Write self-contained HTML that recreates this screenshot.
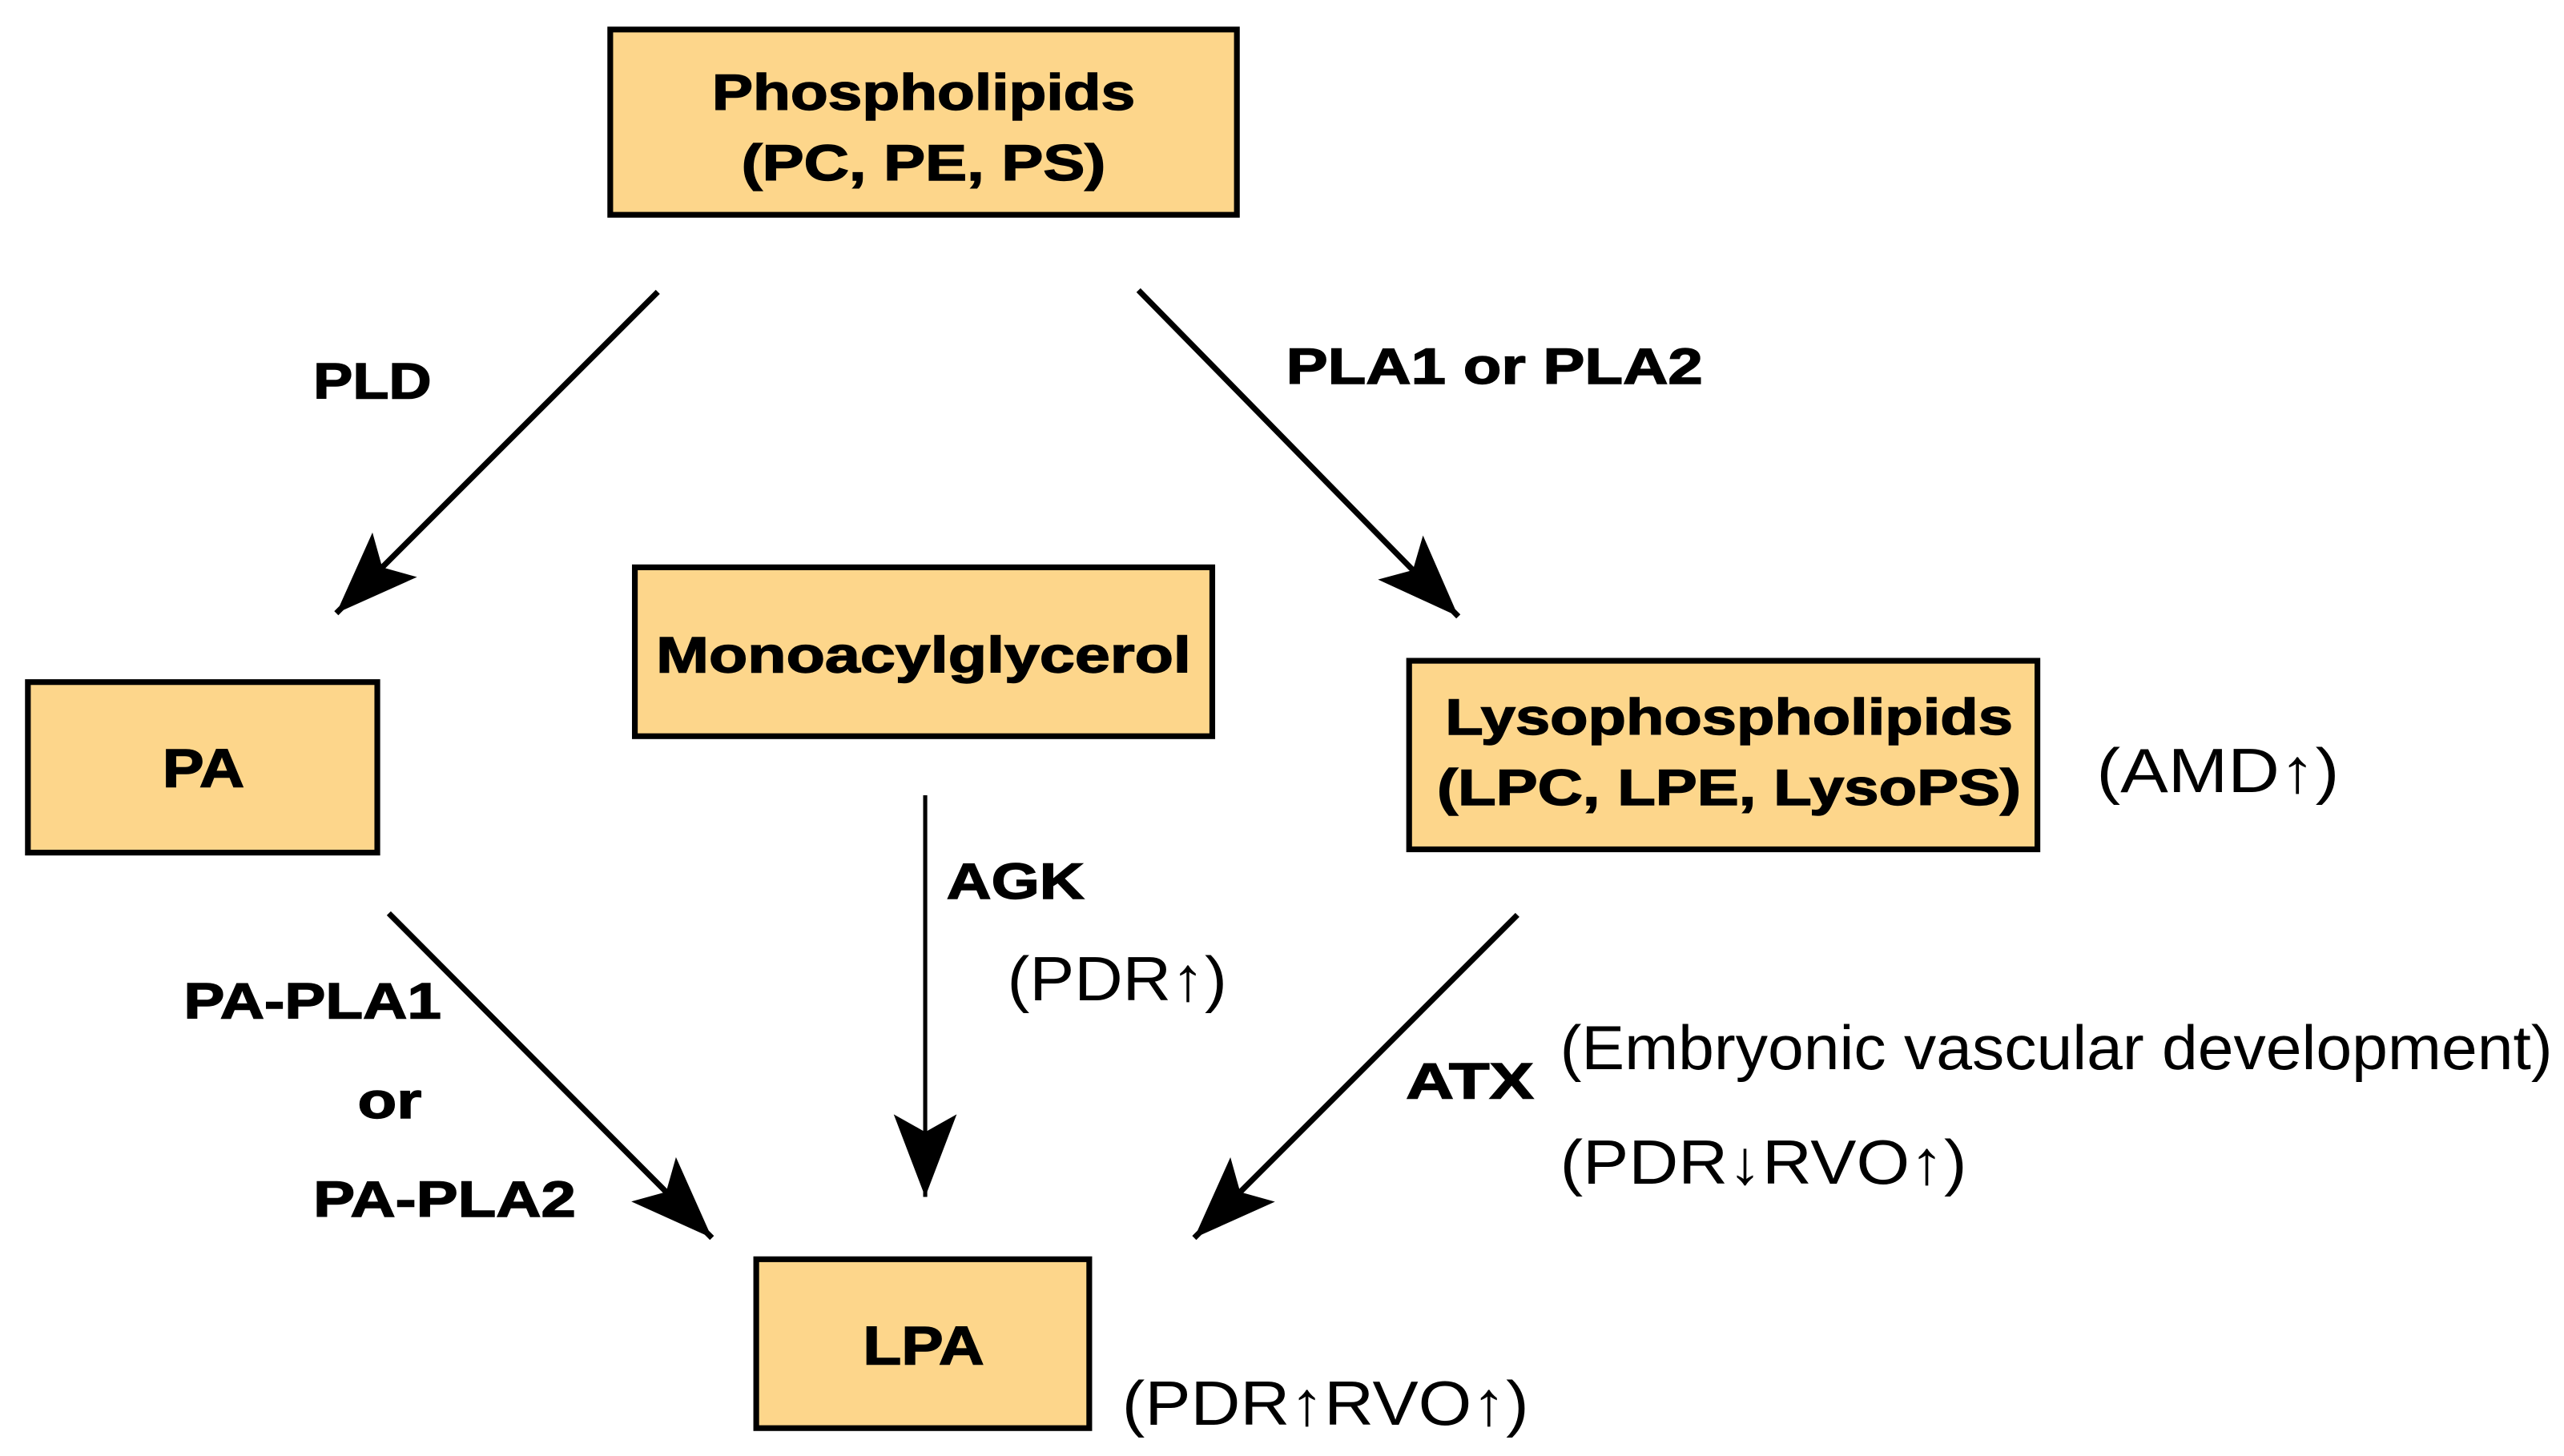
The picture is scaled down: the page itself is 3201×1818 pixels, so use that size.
<!DOCTYPE html>
<html><head><meta charset="utf-8"><style>
html,body{margin:0;padding:0;background:#fff;}
svg{display:block;}
.b{font-family:"Liberation Sans",sans-serif;font-weight:bold;fill:#000;stroke:#000;stroke-width:0.7;}
.r{font-family:"Liberation Sans",sans-serif;fill:#000;}
</style></head><body>
<svg width="3201" height="1818" viewBox="0 0 1563 888" preserveAspectRatio="none" xmlns="http://www.w3.org/2000/svg">
<defs>
<marker id="a" markerUnits="userSpaceOnUse" markerWidth="60" markerHeight="60" refX="0" refY="0" viewBox="-45 -20 50 40" orient="auto" overflow="visible">
<path d="M0,0 L-42,-16 L-33,0 L-42,16 Z" fill="#000"/>
</marker>
</defs>
<g fill="#FDD68B" stroke="#000" stroke-width="3.5">
<rect x="372" y="18" width="382" height="113"/>
<rect x="17" y="416" width="213" height="104"/>
<rect x="387" y="346" width="352" height="103"/>
<rect x="859" y="403" width="383" height="115"/>
<rect x="461" y="768" width="203" height="103"/>
</g>
<g stroke="#000" stroke-width="3.5" marker-end="url(#a)">
<line x1="401" y1="178" x2="205" y2="374"/>
<line x1="694" y1="177" x2="889" y2="376"/>
<line x1="237" y1="557" x2="434" y2="755"/>
<line x1="925" y1="558" x2="728" y2="755"/>
</g>
<line x1="564" y1="485" x2="564" y2="730" stroke="#000" stroke-width="2.5" marker-end="url(#a)"/>
<g class="b" font-size="31" text-anchor="middle">
<text x="563" y="67" textLength="258" lengthAdjust="spacingAndGlyphs">Phospholipids</text>
<text x="563" y="110" textLength="222" lengthAdjust="spacingAndGlyphs">(PC, PE, PS)</text>
<text x="124" y="480" font-size="33" textLength="50" lengthAdjust="spacingAndGlyphs">PA</text>
<text x="563" y="410" textLength="326" lengthAdjust="spacingAndGlyphs">Monoacylglycerol</text>
<text x="1054" y="448" textLength="346" lengthAdjust="spacingAndGlyphs">Lysophospholipids</text>
<text x="1054" y="491" textLength="356" lengthAdjust="spacingAndGlyphs">(LPC, LPE, LysoPS)</text>
<text x="563" y="832" font-size="33" textLength="74" lengthAdjust="spacingAndGlyphs">LPA</text>
</g>
<g class="b" font-size="31">
<text x="191" y="243" textLength="72" lengthAdjust="spacingAndGlyphs">PLD</text>
<text x="784" y="234" textLength="254" lengthAdjust="spacingAndGlyphs">PLA1 or PLA2</text>
<text x="577" y="548" textLength="84" lengthAdjust="spacingAndGlyphs">AGK</text>
<text x="112" y="621" textLength="157" lengthAdjust="spacingAndGlyphs">PA-PLA1</text>
<text x="218" y="682" textLength="39" lengthAdjust="spacingAndGlyphs">or</text>
<text x="191" y="742" textLength="160" lengthAdjust="spacingAndGlyphs">PA-PLA2</text>
<text x="857" y="670" textLength="78" lengthAdjust="spacingAndGlyphs">ATX</text>
</g>
<g class="r" font-size="38">
<text x="1278" y="483" textLength="148" lengthAdjust="spacingAndGlyphs">(AMD↑)</text>
<text x="614" y="610" textLength="134" lengthAdjust="spacingAndGlyphs">(PDR↑)</text>
<text x="951" y="652" textLength="605" lengthAdjust="spacingAndGlyphs">(Embryonic vascular development)</text>
<text x="951" y="722" textLength="248" lengthAdjust="spacingAndGlyphs">(PDR↓RVO↑)</text>
<text x="684" y="869" textLength="248" lengthAdjust="spacingAndGlyphs">(PDR↑RVO↑)</text>
</g>
</svg>
</body></html>
